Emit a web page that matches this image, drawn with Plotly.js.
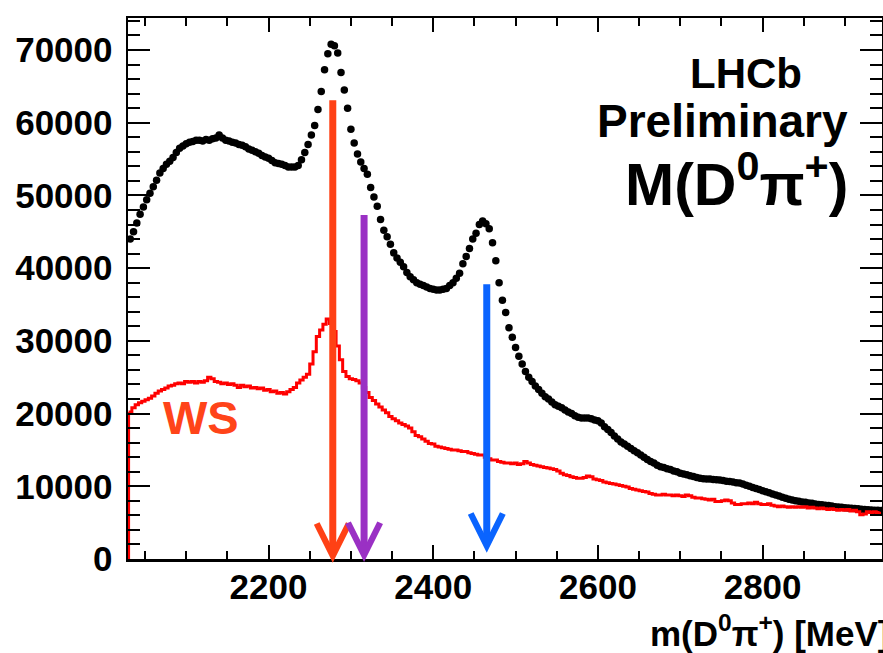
<!DOCTYPE html>
<html><head><meta charset="utf-8">
<script src="https://cdn.plot.ly/plotly-3.0.1.min.js"></script>
<style>html,body{margin:0;padding:0;background:#fff;}#chart{width:883px;height:653px;}</style>
</head><body><div id="chart"></div>
<script>
// Histogram binning (MeV)
const binStart = 2030;
const binWidth = 4;

// Right-sign M(D0 pi+) candidates (black points), one value per bin
const rsCounts = [
44000,45000,46200,47400,48400,49400,50300,51200,52100,53100,
53700,54300,54700,55200,55900,56500,56800,57100,57300,57400,
57600,57600,57500,57700,57600,57800,57900,58300,57900,57600,
57500,57300,57200,57000,56900,56700,56400,56200,56000,55800,
55500,55300,55100,54800,54500,54400,54300,54100,53900,53900,
53900,54100,54900,55900,57000,58300,59600,61800,64300,67300,
69500,70800,70600,69600,66900,64500,62000,59100,57200,55700,
54600,53700,52900,51100,49800,48500,46700,45200,44300,43300,
42100,41400,40800,40200,39400,38800,38400,38000,37800,37600,
37400,37200,37100,37000,37000,37100,37200,37600,38000,38600,
39300,40600,41600,42700,44000,44800,46000,46500,46100,45400,
43500,41000,38000,35600,33900,31800,30500,29100,27900,26800,
25800,25000,24400,23800,23300,22800,22300,22000,21600,21200,
21000,20800,20500,20200,20000,19700,19500,19400,19400,19400,
19300,19100,19000,18700,18200,17800,17400,16900,16500,16100,
15800,15500,15200,14900,14600,14300,14000,13700,13400,13200,
12900,12700,12600,12400,12300,12100,12000,11800,11700,11600,
11450,11350,11200,11100,11050,11000,11000,10950,10900,10850,
10800,10700,10650,10600,10500,10450,10300,10150,10000,9850,
9700,9550,9400,9250,9100,8950,8800,8650,8500,8350,
8200,8100,8000,7950,7850,7800,7700,7650,7550,7500,
7450,7400,7350,7300,7200,7150,7100,7050,7000,6980,
6950,6900,6850,6820,6780,6750,6720,6700,6680
];

// Wrong-sign (WS) histogram (red line), one value per bin
const wsCounts = [
20200,20800,21200,21500,21700,21900,22100,22400,22800,23100,
23300,23500,23800,23900,24100,24200,24100,24400,24300,24400,
24200,24400,24300,24500,25000,24800,24400,24300,24100,24200,
24000,24100,23900,23600,23900,23700,23800,23500,23600,23400,
23500,23200,23300,23000,23100,22800,22900,22700,23000,23300,
23600,24200,24600,25000,25400,26800,28500,30600,31500,32300,
33000,32400,31300,29300,27400,25800,25100,24800,24700,24500,
24200,23600,22900,22200,21800,21300,20900,20500,20100,19600,
19300,19000,18700,18500,18300,18000,17500,17000,16800,16500,
16200,15900,15800,15500,15400,15300,15200,15100,15000,15000,
14900,14800,14800,14600,14500,14400,14300,14300,14000,13800,
13600,13600,13400,13300,13200,13200,13100,13200,13000,13100,
13400,13200,13000,12900,12800,12700,12600,12500,12400,12300,
12100,11800,11600,11500,11300,11200,11100,11100,11200,11400,
11300,11000,10900,10800,10600,10500,10400,10300,10200,10100,
10000,9900,9700,9600,9500,9400,9300,9200,9000,8900,
8800,8800,8900,8800,8800,8700,8800,8700,8600,8800,
8700,8500,8400,8400,8300,8200,8100,8200,7900,7900,
8000,8100,8000,7700,7500,7500,7600,7600,7700,7600,
7800,7600,7500,7500,7600,7400,7300,7200,7300,7200,
7100,7200,7100,7200,7100,7200,7000,7100,7000,6900,
7000,6900,6800,6900,6800,6700,6800,6700,6800,6600,
6700,6500,6100,6200,6500,6400,6500,6400,6500
];

// Arrows marking resonances
const arrowMass = [2278, 2316, 2465];
const arrowTop  = [63300, 47500, 38000];
const arrowTip  = [-500, -400, 870];
const arrowColors = ['#FF4115', '#9A30C4', '#0A64FF'];

// Texts
const labelExp = 'LHCb';
const labelStatus = 'Preliminary';
const labelMass = 'M(D<sup>0</sup>π<sup>+</sup>)';
const labelWS = 'WS';
const xTitle = 'm(D<sup>0</sup>π<sup>+</sup>) [MeV]';

const FONT = 'Liberation Sans, Arial, Helvetica, sans-serif';

const traces = [
  {type:'scatter', mode:'markers', name:'RS',
   x0: binStart + binWidth/2, dx: binWidth, y: rsCounts,
   marker:{size:7.5, color:'#000000'}, hoverinfo:'x+y'},
  {type:'scatter', mode:'lines', name:'WS',
   x0: binStart, dx: binWidth, y: wsCounts,
   line:{shape:'hv', color:'#FF0000', width:3}},
  {type:'scatter', mode:'lines', name:'WS edge',
   x:[binStart, binStart], y:[0, wsCounts[0]],
   line:{color:'#FF0000', width:3}}
];

const annotations = arrowMass.map((m,i)=>({
  x:m, y:arrowTip[i], ax:m, ay:arrowTop[i],
  xref:'x', yref:'y', axref:'x', ayref:'y',
  text:'', showarrow:true, arrowhead:5, arrowsize:0.9, arrowwidth:7,
  arrowcolor:arrowColors[i], standoff:0, startstandoff:0
}));

annotations.push(
  {text:labelWS, xref:'paper', yref:'paper', x:0.044, y:0.261, xanchor:'left', yanchor:'middle',
   showarrow:false, font:{family:FONT, size:47, color:'#FF4419', weight:'bold'}},
  {text:labelExp, xref:'paper', yref:'paper', x:0.897, y:0.897, xanchor:'right', yanchor:'middle',
   showarrow:false, font:{family:FONT, size:42, color:'#000', weight:'bold'}},
  {text:labelStatus, xref:'paper', yref:'paper', x:0.957, y:0.810, xanchor:'right', yanchor:'middle',
   showarrow:false, font:{family:FONT, size:46, color:'#000', weight:'bold'}},
  {text:labelMass, xref:'paper', yref:'paper', x:0.958, y:0.700, xanchor:'right', yanchor:'middle',
   showarrow:false, font:{family:FONT, size:59, color:'#000', weight:'bold'}},
  {text:xTitle, xref:'paper', yref:'paper', x:1.012, y:-0.133, xanchor:'right', yanchor:'middle',
   showarrow:false, font:{family:FONT, size:35, color:'#000', weight:'bold'}}
);

const layout = {
  width:883, height:653,
  margin:{l:128, r:1, t:18, b:94},
  paper_bgcolor:'#fff', plot_bgcolor:'#fff',
  showlegend:false,
  xaxis:{range:[2029.3, 2945], showgrid:false, zeroline:false,
    showline:true, linecolor:'#000', linewidth:2.5, mirror:'allticks',
    ticks:'inside', ticklen:14, tickwidth:2, tickcolor:'#000',
    tick0:0, dtick:200, tickformat:'d',
    tickfont:{family:FONT, size:35, color:'#000', weight:'bold'},
    ticklabelstandoff:-5,
    minor:{tick0:0, dtick:50, ticks:'inside', ticklen:8, tickwidth:2, tickcolor:'#000', showgrid:false}},
  yaxis:{range:[0, 74400], showgrid:false, zeroline:false,
    showline:true, linecolor:'#000', linewidth:2.5, mirror:'allticks',
    ticks:'inside', ticklen:22, tickwidth:2, tickcolor:'#000',
    tick0:0, dtick:10000, tickformat:'d',
    tickfont:{family:FONT, size:35, color:'#000', weight:'bold'},
    ticklabelstandoff:6,
    minor:{tick0:0, dtick:2000, ticks:'inside', ticklen:12, tickwidth:2, tickcolor:'#000', showgrid:false}},
  annotations:annotations
};

Plotly.newPlot('chart', traces, layout, {staticPlot:true, displayModeBar:false});
</script></body></html>
